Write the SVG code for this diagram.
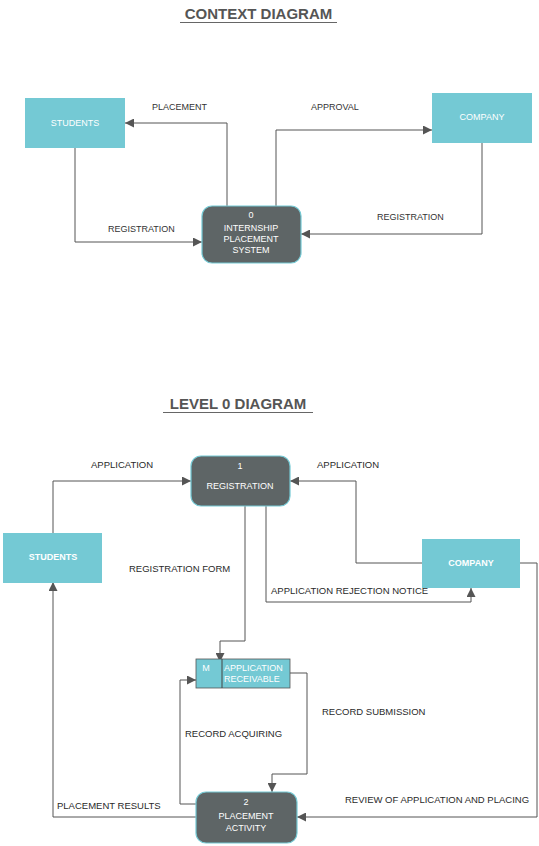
<svg xmlns="http://www.w3.org/2000/svg" width="539" height="846" viewBox="0 0 539 846">
<style>
  .ent{fill:#74C9D4;}
  .proc{fill:#5E6566;stroke:#74C9D4;stroke-width:1.2;}
  .wt{fill:#fff;font-family:"Liberation Sans",Arial,sans-serif;font-size:9px;text-anchor:middle;}
  .wb{font-weight:bold;}
  .lbl{fill:#333;font-family:"Liberation Sans",Arial,sans-serif;font-size:9px;}
  .lbl2{fill:#2a2a2a;font-family:"Liberation Sans",Arial,sans-serif;font-size:9.5px;}
  .title{fill:#555;font-family:"Liberation Sans",Arial,sans-serif;font-size:15px;font-weight:bold;text-anchor:middle;}
  .ul{stroke:#666;stroke-width:1;}
  .c{fill:none;stroke:#555;stroke-width:1;marker-end:url(#ah);}
</style>
<defs>
  <marker id="ah" viewBox="0 0 10 10" refX="10" refY="5" markerWidth="9" markerHeight="9" markerUnits="userSpaceOnUse" orient="auto">
    <path d="M0,0 L10,5 L0,10 z" fill="#555"/>
  </marker>
</defs>
<rect width="539" height="846" fill="#fff"/>

<g id="titles">
  <text class="title" x="258.5" y="19">CONTEXT DIAGRAM</text>
  <line class="ul" x1="180" y1="22.5" x2="337" y2="22.5"/>
  <text class="title" x="238" y="409">LEVEL 0 DIAGRAM</text>
  <line class="ul" x1="163" y1="412.5" x2="313" y2="412.5"/>
</g>

<g id="connectors">
  <!-- context -->
  <path class="c" d="M227,206 V123 H125"/>
  <path class="c" d="M75,148 V242 H202"/>
  <path class="c" d="M276,206 V130 H432"/>
  <path class="c" d="M482,142 V234 H301"/>
  <!-- level 0 -->
  <path class="c" d="M53,533 V481 H191"/>
  <path class="c" d="M422,563 H356 V481 H290"/>
  <path class="c" d="M245,506 V641 H220 V662"/>
  <path class="c" d="M266,506 V602 H471 V588"/>
  <path class="c" d="M290,673 H307 V774 H272 V792"/>
  <path class="c" d="M196,804 H180 V680 H196"/>
  <path class="c" d="M520,563 H537 V817 H297"/>
  <path class="c" d="M196,817 H53 V582"/>
</g>

<g id="labels">
  <text class="lbl" x="152" y="110">PLACEMENT</text>
  <text class="lbl" x="311" y="110">APPROVAL</text>
  <text class="lbl" x="108" y="232">REGISTRATION</text>
  <text class="lbl" x="377" y="220">REGISTRATION</text>
  <text class="lbl2" x="91" y="468">APPLICATION</text>
  <text class="lbl2" x="317" y="468">APPLICATION</text>
  <text class="lbl2" x="129" y="572">REGISTRATION FORM</text>
  <text class="lbl2" x="271" y="594">APPLICATION REJECTION NOTICE</text>
  <text class="lbl2" x="322" y="715">RECORD SUBMISSION</text>
  <text class="lbl2" x="185" y="737">RECORD ACQUIRING</text>
  <text class="lbl2" x="57" y="809">PLACEMENT RESULTS</text>
  <text class="lbl2" x="345" y="803">REVIEW OF APPLICATION AND PLACING</text>
</g>

<g id="ctx-students">
  <rect class="ent" x="25" y="98" width="100" height="50"/>
  <text class="wt" x="75" y="126">STUDENTS</text>
</g>
<g id="ctx-company">
  <rect class="ent" x="432" y="93" width="100" height="50"/>
  <text class="wt" x="482" y="120">COMPANY</text>
</g>
<g id="ctx-system">
  <rect class="proc" x="202" y="206" width="99" height="57" rx="10"/>
  <text class="wt" x="251" y="218">0</text>
  <text class="wt" x="251" y="231">INTERNSHIP</text>
  <text class="wt" x="251" y="242">PLACEMENT</text>
  <text class="wt" x="251" y="253">SYSTEM</text>
</g>

<g id="l0-registration">
  <rect class="proc" x="191" y="456" width="99" height="50" rx="10"/>
  <text class="wt" x="240" y="469">1</text>
  <text class="wt" x="240" y="489">REGISTRATION</text>
</g>
<g id="l0-students">
  <rect class="ent" x="3" y="533" width="99" height="50"/>
  <text class="wt wb" x="53" y="560">STUDENTS</text>
</g>
<g id="l0-company">
  <rect class="ent" x="422" y="539" width="98" height="49"/>
  <text class="wt wb" x="471" y="566">COMPANY</text>
</g>
<g id="l0-datastore">
  <rect class="ent" x="196" y="659" width="94" height="29" stroke="#555" stroke-width="0.8"/>
  <line x1="222" y1="659" x2="222" y2="688" stroke="#444" stroke-width="1"/>
  <text class="wt" x="206" y="671">M</text>
  <text class="wt" x="224" y="671" style="text-anchor:start">APPLICATION</text>
  <text class="wt" x="224" y="682" style="text-anchor:start">RECEIVABLE</text>
</g>
<g id="l0-placement">
  <rect class="proc" x="196" y="792" width="101" height="51" rx="10"/>
  <text class="wt" x="246" y="805">2</text>
  <text class="wt" x="246" y="819">PLACEMENT</text>
  <text class="wt" x="246" y="831">ACTIVITY</text>
</g>
</svg>
